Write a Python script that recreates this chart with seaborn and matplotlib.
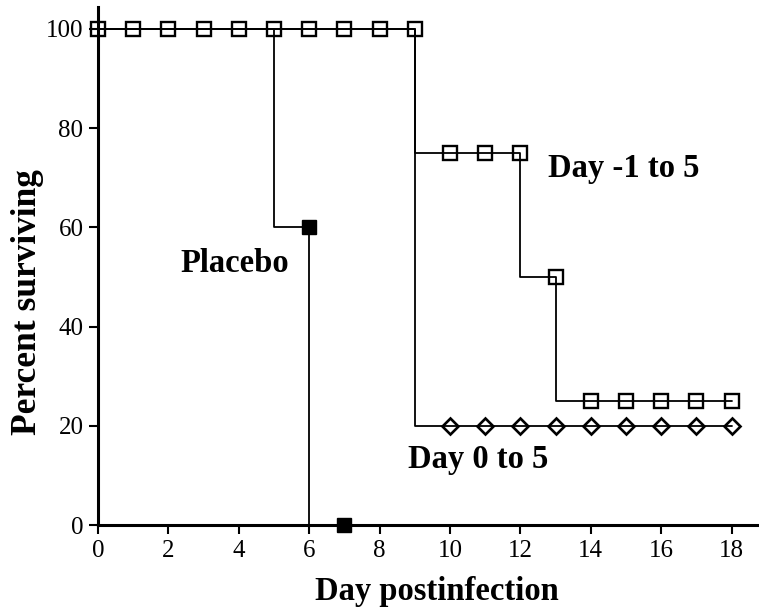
import numpy as np
import pandas as pd
import matplotlib
matplotlib.use("Agg")
import matplotlib.pyplot as plt
import seaborn as sns

# ---- data ----
days = list(range(0, 19))
placebo_days = [0, 1, 2, 3, 4, 5, 6, 7]
placebo = [100, 100, 100, 100, 100, 100, 60, 0]
dm1to5 = [100, 100, 100, 100, 100, 100, 100, 100, 100, 100,
          75, 75, 75, 50, 25, 25, 25, 25, 25]
d0to5 = [100, 100, 100, 100, 100, 100, 100, 100, 100, 100,
         20, 20, 20, 20, 20, 20, 20, 20, 20]
x_ticks = [0, 2, 4, 6, 8, 10, 12, 14, 16, 18]
y_ticks = [0, 20, 40, 60, 80, 100]
labels = {"Placebo": (2.33, 51.0), "Day -1 to 5": (12.78, 70.2), "Day 0 to 5": (8.81, 11.5)}

sns.set_style("ticks")
plt.rcParams['font.family'] = ['Liberation Serif', 'DejaVu Serif']
plt.rcParams['text.color'] = 'black'
plt.rcParams['axes.labelcolor'] = 'black'
plt.rcParams['xtick.color'] = 'black'
plt.rcParams['ytick.color'] = 'black'

fig = plt.figure(figsize=(7.59, 6.08), dpi=100)
ax = fig.add_axes([98 / 759, 1 - 525 / 608, 661 / 759, 518 / 608])

df_p = pd.DataFrame({"day": placebo_days, "pct": placebo})
df_a = pd.DataFrame({"day": days, "pct": dm1to5})
df_b = pd.DataFrame({"day": days, "pct": d0to5})

lw = 1.3
sns.lineplot(data=df_p, x="day", y="pct", ax=ax, color="black", lw=lw,
             drawstyle="steps-pre", errorbar=None, sort=False,
             marker="s", markersize=10.5, markevery=[6, 7],
             markerfacecolor="black", markeredgecolor="black", markeredgewidth=1.0,
             clip_on=False, zorder=3)
sns.lineplot(data=df_b, x="day", y="pct", ax=ax, color="black", lw=lw,
             drawstyle="steps-pre", errorbar=None, sort=False,
             marker="D", markersize=7.8, markevery=list(range(10, 19)),
             markerfacecolor="none", markeredgecolor="black", markeredgewidth=1.9,
             clip_on=False, zorder=3)
sns.lineplot(data=df_a, x="day", y="pct", ax=ax, color="black", lw=lw,
             drawstyle="steps-pre", errorbar=None, sort=False,
             marker="s", markersize=10, markerfacecolor="none",
             markeredgecolor="black", markeredgewidth=1.7,
             clip_on=False, zorder=3)

ax.set_xlim(0, 18.78)
ax.set_ylim(0, 104.4)
ax.set_xticks(x_ticks)
ax.set_yticks(y_ticks)
ax.set_xticklabels([str(t) for t in x_ticks])
ax.set_yticklabels([str(t) for t in y_ticks])

for s in ["top", "right"]:
    ax.spines[s].set_visible(False)
for s in ["left", "bottom"]:
    ax.spines[s].set_linewidth(2.2)
    ax.spines[s].set_color("black")

ax.tick_params(axis="both", direction="out", length=6.5, width=1.5,
               labelsize=18, colors="black", pad=4)

ax.set_xlabel("Day postinfection", fontsize=23.5, fontweight="bold", color="black")
ax.set_ylabel("Percent surviving", fontsize=25.5, fontweight="bold", color="black")
ax.xaxis.set_label_coords(0.512, -0.098)
ax.yaxis.set_label_coords(-0.082, 0.43)

for txt, (tx, ty) in labels.items():
    ax.text(tx, ty, txt, fontsize=23.5, fontweight="bold", ha="left",
            va="baseline", color="black")

fig.savefig("out.png", dpi=100)
